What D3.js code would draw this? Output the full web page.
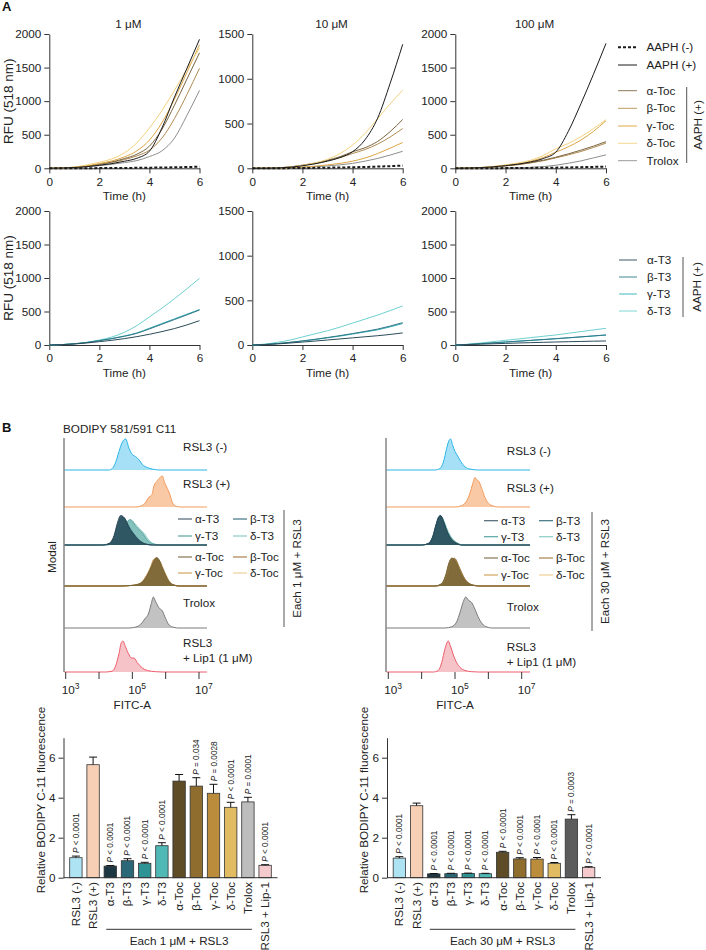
<!DOCTYPE html>
<html><head><meta charset="utf-8">
<script src="https://cdn.jsdelivr.net/npm/d3@7"></script>
<style>body{margin:0;background:#fff}</style>
</head><body>
<svg id="c" width="706" height="950"></svg>
<script>
// ---------------- DATA ----------------
const times = [0,0.5,1,1.5,2,2.5,3,3.5,4,4.5,5,5.5,6];
const timeTicks = [0,2,4,6];
const concLabels = ["1 μM","10 μM","100 μM"];
const yMaxes = [2000,1500,2000];
const tocLegend = ["α-Toc","β-Toc","γ-Toc","δ-Toc","Trolox"];
const t3Legend = ["α-T3","β-T3","γ-T3","δ-T3"];

// Row 1 (tocopherols), RFU at each time
const aaphNeg1  = [0,0,1,2,3,4,5,7,9,12,15,19,24];
const aaphPos1  = [0,4,12,25,45,70,105,150,255,600,1060,1490,1920];
const aToc1     = [0,4,14,32,62,95,145,210,330,580,940,1330,1720];
const bToc1     = [0,4,14,30,58,88,130,185,270,450,740,1100,1490];
const gToc1     = [0,4,15,35,70,110,170,260,420,680,1030,1430,1840];
const dToc1     = [0,5,20,50,90,140,230,380,600,860,1160,1480,1790];
const trolox1   = [0,3,10,22,40,60,85,115,175,260,450,790,1160];

const aaphNeg10 = [0,0,1,2,3,5,7,9,12,15,19,24,30];
const aaphPos10 = [0,0,3,12,28,50,80,120,185,320,560,950,1385];
const aToc10    = [0,1,5,15,35,58,90,130,185,230,300,410,545];
const bToc10    = [0,1,5,15,32,55,85,120,165,210,270,350,444];
const gToc10    = [0,0,2,6,14,24,38,55,80,115,165,225,288];
const dToc10    = [0,1,5,15,35,60,100,165,260,390,555,720,873];
const trolox10  = [0,0,2,5,11,18,27,38,55,80,110,148,190];

const aaphNeg100 = [0,0,1,2,3,4,6,8,10,13,17,21,26];
const aaphPos100 = [0,3,10,22,40,62,95,145,240,550,960,1400,1860];
const aToc100    = [0,2,9,20,38,58,85,120,165,215,270,330,397];
const bToc100    = [0,2,8,18,35,54,80,112,155,200,250,310,375];
const gToc100    = [0,2,10,24,45,70,105,160,240,320,420,550,710];
const dToc100    = [0,3,12,28,50,80,120,190,290,370,470,590,725];
const trolox100  = [0,0,1,3,5,8,14,25,45,75,110,155,200];

// Row 2 (tocotrienols)
const aT3_1 = [0,5,15,30,50,70,95,125,160,200,245,300,363];
const bT3_1 = [0,6,18,38,65,95,130,175,240,310,380,450,522];
const gT3_1 = [0,6,18,38,65,97,135,180,250,320,390,460,530];
const dT3_1 = [0,6,18,40,75,120,190,290,420,550,690,840,995];

const aT3_10 = [0,4,12,22,33,44,56,68,80,92,104,118,135];
const bT3_10 = [0,6,16,30,46,64,84,105,128,152,178,212,250];
const gT3_10 = [0,6,16,29,44,61,80,100,122,146,170,203,240];
const dT3_10 = [0,10,30,55,90,125,160,200,245,290,335,385,437];

const aT3_100 = [0,5,12,18,24,30,35,40,45,49,53,57,60];
const bT3_100 = [0,8,20,32,45,57,70,82,95,108,122,136,150];
const gT3_100 = [0,8,19,31,44,56,68,80,93,106,120,134,148];
const dT3_100 = [0,12,30,50,70,90,110,130,150,175,200,225,249];

// Histograms: [log10(FITC-A), relative count]
const hL_rslNeg = [[4.3,0],[4.4,0.05],[4.5,0.25],[4.6,0.6],[4.7,0.9],[4.8,1.0],[4.9,0.7],[5.0,0.5],[5.1,0.43],[5.2,0.33],[5.3,0.18],[5.45,0.08],[5.6,0.03],[5.8,0]];
const hL_rslPos = [[5.1,0],[5.25,0.03],[5.38,0.12],[5.5,0.32],[5.58,0.38],[5.65,0.68],[5.75,0.85],[5.85,0.97],[5.9,1.0],[5.97,0.78],[6.05,0.6],[6.12,0.42],[6.2,0.15],[6.3,0.03],[6.45,0]];
const hL_aT3 = [[4.1,0],[4.3,0.05],[4.45,0.3],[4.55,0.7],[4.65,0.95],[4.72,0.92],[4.8,0.8],[4.9,0.55],[5.0,0.4],[5.1,0.25],[5.25,0.1],[5.4,0.03],[5.6,0]];
const hL_bT3 = [[4.1,0],[4.3,0.04],[4.45,0.25],[4.57,0.65],[4.68,0.9],[4.75,0.88],[4.85,0.7],[4.95,0.5],[5.05,0.35],[5.15,0.22],[5.3,0.08],[5.45,0.02],[5.6,0]];
const hL_gT3 = [[4.2,0],[4.4,0.05],[4.55,0.25],[4.7,0.55],[4.82,0.7],[4.92,0.82],[5.0,0.78],[5.1,0.6],[5.2,0.5],[5.3,0.38],[5.45,0.15],[5.6,0.04],[5.8,0]];
const hL_dT3 = [[4.2,0],[4.4,0.04],[4.55,0.2],[4.7,0.5],[4.85,0.7],[4.95,0.78],[5.05,0.72],[5.15,0.6],[5.25,0.48],[5.35,0.38],[5.5,0.15],[5.65,0.04],[5.85,0]];
const hL_aToc = [[4.6,0],[5.0,0.02],[5.25,0.08],[5.4,0.25],[5.55,0.55],[5.65,0.8],[5.73,0.92],[5.8,0.85],[5.9,0.6],[6.0,0.35],[6.1,0.15],[6.25,0.03],[6.4,0]];
const hL_bToc = [[4.6,0],[5.0,0.02],[5.25,0.09],[5.4,0.27],[5.55,0.58],[5.65,0.82],[5.72,0.9],[5.8,0.8],[5.9,0.56],[6.0,0.32],[6.1,0.13],[6.25,0.03],[6.4,0]];
const hL_gToc = [[4.6,0],[5.0,0.02],[5.25,0.1],[5.4,0.3],[5.55,0.62],[5.63,0.85],[5.7,0.9],[5.78,0.82],[5.88,0.58],[5.98,0.33],[6.08,0.13],[6.22,0.03],[6.4,0]];
const hL_dToc = [[4.6,0],[5.0,0.02],[5.25,0.07],[5.4,0.22],[5.55,0.5],[5.67,0.78],[5.75,0.86],[5.83,0.8],[5.93,0.56],[6.03,0.32],[6.13,0.13],[6.27,0.03],[6.45,0]];
const hL_trolox = [[4.9,0],[5.1,0.03],[5.25,0.12],[5.38,0.3],[5.48,0.45],[5.56,0.75],[5.63,1.0],[5.7,0.85],[5.8,0.65],[5.9,0.55],[6.0,0.3],[6.1,0.1],[6.25,0.02],[6.4,0]];
const hL_lip1 = [[4.2,0],[4.4,0.03],[4.5,0.2],[4.6,0.6],[4.67,0.95],[4.72,1.0],[4.78,0.85],[4.88,0.6],[4.98,0.45],[5.05,0.45],[5.15,0.3],[5.3,0.13],[5.45,0.05],[5.7,0.01],[5.9,0]];

const hR_rslNeg = [[4.4,0],[4.55,0.05],[4.65,0.25],[4.75,0.7],[4.82,0.95],[4.87,1.0],[4.93,0.8],[5.0,0.6],[5.08,0.45],[5.17,0.28],[5.3,0.1],[5.45,0.03],[5.7,0]];
const hR_rslPos = [[5.0,0],[5.2,0.04],[5.35,0.2],[5.45,0.45],[5.53,0.75],[5.6,0.95],[5.65,0.88],[5.72,0.82],[5.8,0.6],[5.9,0.3],[6.0,0.12],[6.15,0.03],[6.3,0]];
const hR_aT3 = [[4.0,0],[4.2,0.05],[4.33,0.25],[4.43,0.65],[4.52,0.92],[4.57,0.95],[4.63,0.82],[4.72,0.55],[4.82,0.3],[4.92,0.15],[5.05,0.05],[5.2,0]];
const hR_bT3 = [[4.0,0],[4.2,0.05],[4.33,0.27],[4.44,0.68],[4.53,0.93],[4.58,0.94],[4.64,0.8],[4.73,0.52],[4.83,0.28],[4.93,0.14],[5.05,0.05],[5.2,0]];
const hR_gT3 = [[4.0,0],[4.2,0.04],[4.34,0.24],[4.45,0.64],[4.54,0.9],[4.59,0.92],[4.65,0.8],[4.74,0.53],[4.84,0.3],[4.95,0.15],[5.08,0.05],[5.25,0]];
const hR_dT3 = [[4.0,0],[4.2,0.04],[4.35,0.22],[4.46,0.6],[4.55,0.88],[4.6,0.9],[4.66,0.8],[4.75,0.55],[4.85,0.32],[4.96,0.16],[5.1,0.05],[5.25,0]];
const hR_aToc = [[4.4,0],[4.6,0.08],[4.72,0.35],[4.82,0.75],[4.9,0.9],[4.97,0.85],[5.05,0.7],[5.15,0.45],[5.25,0.25],[5.4,0.08],[5.55,0.02],[5.7,0]];
const hR_bToc = [[4.45,0],[4.65,0.07],[4.78,0.33],[4.88,0.72],[4.97,0.9],[5.03,0.85],[5.1,0.68],[5.2,0.43],[5.3,0.22],[5.45,0.07],[5.6,0.02],[5.75,0]];
const hR_gToc = [[4.4,0],[4.6,0.07],[4.73,0.33],[4.84,0.76],[4.92,0.88],[5.0,0.86],[5.08,0.68],[5.18,0.44],[5.28,0.24],[5.42,0.08],[5.57,0.02],[5.72,0]];
const hR_dToc = [[4.4,0],[4.6,0.06],[4.72,0.3],[4.83,0.7],[4.9,0.82],[4.98,0.8],[5.06,0.65],[5.16,0.42],[5.26,0.22],[5.4,0.07],[5.55,0.02],[5.7,0]];
const hR_trolox = [[4.7,0],[4.9,0.04],[5.05,0.2],[5.15,0.5],[5.25,0.85],[5.32,1.0],[5.4,0.9],[5.5,0.82],[5.6,0.6],[5.72,0.3],[5.85,0.1],[6.0,0.02],[6.1,0]];
const hR_lip1 = [[4.35,0],[4.5,0.05],[4.6,0.3],[4.7,0.75],[4.77,0.97],[4.8,1.0],[4.86,0.85],[4.95,0.55],[5.05,0.3],[5.15,0.15],[5.3,0.05],[5.5,0.01],[5.7,0]];

// Bar charts
const barCats = ["RSL3 (-)","RSL3 (+)","α-T3","β-T3","γ-T3","δ-T3","α-Toc","β-Toc","γ-Toc","δ-Toc","Trolox","RSL3 + Lip-1"];
const bar1Vals = [1.0,5.65,0.58,0.85,0.72,1.6,4.83,4.58,4.22,3.52,3.79,0.62];
const bar1Errs = [0.08,0.38,0.03,0.1,0.05,0.15,0.33,0.42,0.45,0.25,0.23,0.03];
const bar1P = ["< 0.0001","","< 0.0001","< 0.0001","< 0.0001","< 0.0001","","= 0.034","= 0.0028","< 0.0001","= 0.0001","< 0.0001"];
const bar30Vals = [0.98,3.6,0.19,0.2,0.21,0.2,1.27,0.94,0.93,0.72,2.93,0.52];
const bar30Errs = [0.07,0.13,0.02,0.02,0.02,0.02,0.05,0.06,0.08,0.04,0.22,0.03];
const bar30P = ["< 0.0001","","< 0.0001","< 0.0001","< 0.0001","< 0.0001","< 0.0001","< 0.0001","< 0.0001","< 0.0001","= 0.0003","< 0.0001"];

// ---------------- STYLE ----------------
const FONT = '"Liberation Sans", Arial, Helvetica, sans-serif';
const FS = 11.7;
const C = {
  aaph:"#1a1a1a", aToc:"#7a6640", bToc:"#b08a52", gToc:"#dca544", dToc:"#f3d27e", trolox:"#8e8e8e",
  aT3:"#2b4b59", bT3:"#2f7688", gT3:"#38b0b5", dT3:"#6fd0d0"
};
const barColors1 = ["#aee3f3","#f6cfb4","#1c3642","#2a6878","#2e9395","#50b9b6","#5e4c27","#8f6d2f","#bb8c3c","#e0bb62","#bdbdbd","#f5cacd"];
const barColors30 = ["#aee3f3","#f6cfb4","#1c3642","#2a6878","#2e9395","#50b9b6","#5e4c27","#8f6d2f","#bb8c3c","#e0bb62","#5c5c5c","#f5cacd"];

const svg = d3.select("#c").attr("font-family", FONT);
function txt(g, x, y, s, opt={}) {
  const t = g.append("text").attr("x",x).attr("y",y).attr("font-size",opt.fs||FS).attr("fill",opt.fill||"#222")
    .attr("text-anchor",opt.anchor||"start").text(s);
  if (opt.weight) t.attr("font-weight",opt.weight);
  if (opt.rot) t.attr("x",null).attr("y",null).attr("transform",`translate(${x},${y}) rotate(-90)`);
  return t;
}
function styleAxis(g){
  g.selectAll("text").attr("font-size",FS).attr("fill","#222").attr("font-family",FONT);
  g.selectAll("path,line").attr("stroke","#333").attr("stroke-width",1);
}

// ---------------- PANEL A ----------------
txt(svg, 2, 11, "A", {fs:13, weight:"bold", fill:"#111"});
const panelX = [[49.3,199.5],[252.3,402.7],[455.3,606]];
const rows = [{yTop:34, yBot:168.3}, {yTop:211, yBot:345}];

const tocPanels = [
  [{v:trolox1,c:C.trolox},{v:bToc1,c:C.bToc},{v:aToc1,c:C.aToc},{v:gToc1,c:C.gToc},{v:dToc1,c:C.dToc},{v:aaphPos1,c:C.aaph},{v:aaphNeg1,c:C.aaph,w:2,dash:"3,2"}],
  [{v:trolox10,c:C.trolox},{v:gToc10,c:C.gToc},{v:bToc10,c:C.bToc},{v:aToc10,c:C.aToc},{v:dToc10,c:C.dToc},{v:aaphPos10,c:C.aaph},{v:aaphNeg10,c:C.aaph,w:2,dash:"3,2"}],
  [{v:trolox100,c:C.trolox},{v:bToc100,c:C.bToc},{v:aToc100,c:C.aToc},{v:gToc100,c:C.gToc},{v:dToc100,c:C.dToc},{v:aaphPos100,c:C.aaph},{v:aaphNeg100,c:C.aaph,w:2,dash:"3,2"}]
];
const t3Panels = [
  [{v:dT3_1,c:C.dT3},{v:gT3_1,c:C.gT3},{v:bT3_1,c:C.bT3},{v:aT3_1,c:C.aT3}],
  [{v:dT3_10,c:C.dT3},{v:gT3_10,c:C.gT3},{v:bT3_10,c:C.bT3},{v:aT3_10,c:C.aT3}],
  [{v:dT3_100,c:C.dT3},{v:gT3_100,c:C.gT3},{v:bT3_100,c:C.bT3},{v:aT3_100,c:C.aT3}]
];

function linePanel(px, row, ymax, series) {
  const x = d3.scaleLinear().domain([0,6]).range(px);
  const y = d3.scaleLinear().domain([0,ymax]).range([row.yBot,row.yTop]);
  const g = svg.append("g");
  g.append("g").attr("transform",`translate(0,${row.yBot})`)
    .call(d3.axisBottom(x).tickValues(timeTicks).tickSize(5).tickSizeOuter(0).tickPadding(4).tickFormat(d3.format("d"))).call(styleAxis);
  g.append("g").attr("transform",`translate(${px[0]},0)`)
    .call(d3.axisLeft(y).tickValues(d3.range(0,ymax+1,500)).tickSize(5).tickSizeOuter(0).tickPadding(3).tickFormat(d3.format("d"))).call(styleAxis);
  const line = d3.line().x((d,i)=>x(times[i])).y(d=>y(d)).curve(d3.curveMonotoneX);
  series.forEach(s => {
    g.append("path").attr("d", line(s.v)).attr("fill","none").attr("stroke",s.c)
      .attr("stroke-width", s.w||1).attr("stroke-dasharray", s.dash||null);
  });
  txt(g, (px[0]+px[1])/2, row.yBot+32, "Time (h)", {anchor:"middle"});
  return g;
}
for (let i=0;i<3;i++){
  const g = linePanel(panelX[i], rows[0], yMaxes[i], tocPanels[i]);
  txt(g, (panelX[i][0]+panelX[i][1])/2+4, 27.5, concLabels[i], {anchor:"middle"});
  linePanel(panelX[i], rows[1], yMaxes[i], t3Panels[i]);
}
txt(svg, 12.5, (rows[0].yTop+rows[0].yBot)/2, "RFU (518 nm)", {anchor:"middle", rot:true, fs:13.5});
txt(svg, 12.5, (rows[1].yTop+rows[1].yBot)/2, "RFU (518 nm)", {anchor:"middle", rot:true, fs:13.5});

// Legend row 1
const lg1 = svg.append("g");
const leg1Items = [
  {n:"AAPH (-)", c:C.aaph, w:2, dash:"3,2", y:47.3},
  {n:"AAPH (+)", c:C.aaph, w:1, y:65},
  {n:tocLegend[0], c:"#8a7a58", y:90.7},
  {n:tocLegend[1], c:"#bf9a62", y:108.3},
  {n:tocLegend[2], c:"#e0aa48", y:126},
  {n:tocLegend[3], c:"#f5d992", y:143.3},
  {n:tocLegend[4], c:"#9a9a9a", y:160.7}
];
leg1Items.forEach(d=>{
  lg1.append("line").attr("x1",618).attr("x2",637).attr("y1",d.y).attr("y2",d.y)
    .attr("stroke",d.c).attr("stroke-width",d.w||1).attr("stroke-dasharray",d.dash||null);
  txt(lg1, 646.5, d.y+4, d.n);
});
lg1.append("line").attr("x1",686.7).attr("x2",686.7).attr("y1",87).attr("y2",163).attr("stroke","#555");
txt(lg1, 702, 125, "AAPH (+)", {anchor:"middle", rot:true});

// Legend row 2
const lg2 = svg.append("g");
const t3LegColors = ["#3a5665","#3d8494","#3fb8bc","#7fd6d4"];
t3Legend.forEach((n,i)=>{
  const yy = 260 + i*17;
  lg2.append("line").attr("x1",619).attr("x2",637).attr("y1",yy).attr("y2",yy).attr("stroke",t3LegColors[i]);
  txt(lg2, 647, yy+4, n);
});
lg2.append("line").attr("x1",683).attr("x2",683).attr("y1",257).attr("y2",317).attr("stroke","#555");
txt(lg2, 701, 287, "AAPH (+)", {anchor:"middle", rot:true});

// ---------------- PANEL B : histograms ----------------
txt(svg, 2, 432, "B", {fs:13, weight:"bold", fill:"#111"});
txt(svg, 63, 433, "BODIPY 581/591 C11");
txt(svg, 56, 557, "Modal", {anchor:"middle", rot:true});

const histBase = [470,507,545,586,628,672];
const HH = 31;
const t3HistStyle = [
  {s:"#8fcac3", f:"#a9d9d3"}, {s:"#5ea8a5", f:"#7dbdb9"}, {s:"#2f6878", f:"#346f7e"}, {s:"#2a4655", f:"#2d505d"}
];
const tocHistStyle = [
  {s:"#e9cf96", f:"#ecd7a6"}, {s:"#c9a060", f:"#cda868"}, {s:"#97753a", f:"#93733a"}, {s:"#7a6538", f:"#7c6838"}
];
function histSide(cfg) {
  const x = d3.scaleLinear().domain([3,7]).range(cfg.xr);
  const g = svg.append("g");
  const lo = x.invert(cfg.axisX+0.5), hi = x.invert(cfg.xEnd);
  function hist(pts, base, stroke, fill, op) {
    const data = [[lo,0], ...pts, [hi,0]];
    const area = d3.area().x(d=>x(d[0])).y0(base).y1(d=>base-d[1]*HH).curve(d3.curveMonotoneX);
    const line = d3.line().x(d=>x(d[0])).y(d=>base-d[1]*HH).curve(d3.curveMonotoneX);
    g.append("path").attr("d",area(data)).attr("fill",fill).attr("fill-opacity",op);
    g.append("path").attr("d",line(data)).attr("fill","none").attr("stroke",stroke).attr("stroke-width",1);
  }
  hist(cfg.rslNeg, histBase[0], "#2bb5e8", "#a6e0f6", 1);
  hist(cfg.rslPos, histBase[1], "#f39a5c", "#f8c9a4", 1);
  cfg.t3.forEach((p,i)=>hist(p, histBase[2], t3HistStyle[i].s, t3HistStyle[i].f, 0.85));
  cfg.toc.forEach((p,i)=>hist(p, histBase[3], tocHistStyle[i].s, tocHistStyle[i].f, 0.85));
  hist(cfg.trolox, histBase[4], "#7a7a7a", "#c2c2c2", 1);
  hist(cfg.lip1, histBase[5], "#ee5c6c", "#f6c3c8", 1);
  g.append("line").attr("x1",cfg.axisX).attr("x2",cfg.axisX).attr("y1",438).attr("y2",672).attr("stroke","#666").attr("stroke-width",1.2);
  [3,4,5,6,7].forEach(v=>{
    g.append("line").attr("x1",x(v)).attr("x2",x(v)).attr("y1",672).attr("y2",679).attr("stroke","#333");
  });
  [3,5,7].forEach(v=>{
    const t = g.append("text").attr("x",x(v)-4).attr("y",694).attr("font-size",FS).attr("fill","#222");
    t.append("tspan").text("10");
    t.append("tspan").attr("dy",-5).attr("font-size",8.5).text(String(v));
  });
  txt(g, x(5), 709, "FITC-A", {anchor:"middle"});
  const L = cfg.lab;
  txt(g, L.x, L.y[0]+4, "RSL3 (-)");
  txt(g, L.x, L.y[1]+4, "RSL3 (+)");
  const t3c = ["#4d6473","#3e7282","#5aa5a3","#8dcbc5"];
  const tocc = ["#847650","#a98048","#d2a45e","#efcf95"];
  const cols = [[0,2],[1,3]];
  [0,1].forEach(col=>{
    [0,1].forEach(r=>{
      const idx = cols[col][r];
      const yy = L.t3y[r];
      g.append("line").attr("x1",L.lx[col]).attr("x2",L.lx[col]+14).attr("y1",yy).attr("y2",yy).attr("stroke",t3c[idx]).attr("stroke-width",1.2);
      txt(g, L.tx[col], yy+4, t3Legend[idx]);
      const y2 = L.tocy[r];
      g.append("line").attr("x1",L.lx[col]).attr("x2",L.lx[col]+14).attr("y1",y2).attr("y2",y2).attr("stroke",tocc[idx]).attr("stroke-width",1.2);
      txt(g, L.tx[col], y2+4, tocLegend[idx]);
    });
  });
  txt(g, L.x, L.y[2]+4, "Trolox");
  txt(g, L.x, L.y[3]+4, "RSL3");
  txt(g, L.x, L.y[4]+4, "+ Lip1 (1 μM)");
  g.append("line").attr("x1",L.bx).attr("x2",L.bx).attr("y1",L.by[0]).attr("y2",L.by[1]).attr("stroke","#555");
  txt(g, L.bx+17, (L.by[0]+L.by[1])/2, cfg.bracket, {anchor:"middle", rot:true});
}
histSide({xr:[65.7,199], axisX:64, xEnd:207,
  rslNeg:hL_rslNeg, rslPos:hL_rslPos, t3:[hL_dT3,hL_gT3,hL_bT3,hL_aT3], toc:[hL_dToc,hL_gToc,hL_bToc,hL_aToc], trolox:hL_trolox, lip1:hL_lip1,
  lab:{x:183, y:[447,484,603,643,658], t3y:[519,536], tocy:[557,573], lx:[178,233], tx:[195,250], bx:284, by:[510,627]},
  bracket:"Each 1 μM + RSL3"});
histSide({xr:[388.3,521.7], axisX:386, xEnd:530,
  rslNeg:hR_rslNeg, rslPos:hR_rslPos, t3:[hR_dT3,hR_gT3,hR_bT3,hR_aT3], toc:[hR_dToc,hR_gToc,hR_bToc,hR_aToc], trolox:hR_trolox, lip1:hR_lip1,
  lab:{x:506.7, y:[451,488,607,647,662], t3y:[520.7,536.7], tocy:[558,575], lx:[484,539], tx:[501,556], bx:592, by:[512,631]},
  bracket:"Each 30 μM + RSL3"});

// ---------------- Bar charts ----------------
function barChart(xr, vals, errs, pLabs, colors, bracket) {
  const g = svg.append("g");
  const x = d3.scaleBand().domain(barCats).range(xr).paddingInner(0.28).paddingOuter(0.36);
  const y = d3.scaleLinear().domain([0,7]).range([877.7,737.7]);
  const bw = x.bandwidth();
  barCats.forEach((c,i)=>{
    const cx = x(c)+bw/2;
    g.append("rect").attr("x",x(c)).attr("width",bw).attr("y",y(vals[i])).attr("height",y(0)-y(vals[i]))
      .attr("fill",colors[i]).attr("stroke","#333").attr("stroke-width",0.8);
    const et = y(vals[i]+errs[i]);
    g.append("line").attr("x1",cx).attr("x2",cx).attr("y1",y(vals[i])).attr("y2",et).attr("stroke","#111");
    g.append("line").attr("x1",cx-4).attr("x2",cx+4).attr("y1",et).attr("y2",et).attr("stroke","#111");
    if (pLabs[i]) {
      const t = g.append("text").attr("transform",`translate(${cx+3},${et-3}) rotate(-90)`)
        .attr("font-size",8.2).attr("fill","#222");
      t.append("tspan").attr("font-style","italic").text("P");
      t.append("tspan").text(" " + pLabs[i]);
    }
    txt(g, cx+4, 882, c, {anchor:"end", rot:true});
  });
  g.append("line").attr("x1",xr[0]).attr("x2",xr[1]).attr("y1",y(0)).attr("y2",y(0)).attr("stroke","#333");
  g.append("g").attr("transform",`translate(${xr[0]},0)`)
    .call(d3.axisLeft(y).tickValues([0,2,4,6]).tickSize(5).tickSizeOuter(0).tickPadding(3).tickFormat(d3.format("d"))).call(styleAxis);
  const bx0 = x("α-T3")+bw/2-4, bx1 = x("Trolox")+bw/2+4;
  g.append("line").attr("x1",bx0).attr("x2",bx1).attr("y1",929.3).attr("y2",929.3).attr("stroke","#333");
  txt(g, (bx0+bx1)/2, 945, bracket, {anchor:"middle"});
  txt(g, xr[0]-19, 800, "Relative BODIPY C-11 fluorescence", {anchor:"middle", rot:true});
}
barChart([63.5,277.5], bar1Vals, bar1Errs, bar1P, barColors1, "Each 1 μM + RSL3");
barChart([387,601], bar30Vals, bar30Errs, bar30P, barColors30, "Each 30 μM + RSL3");
</script>
</body></html>
